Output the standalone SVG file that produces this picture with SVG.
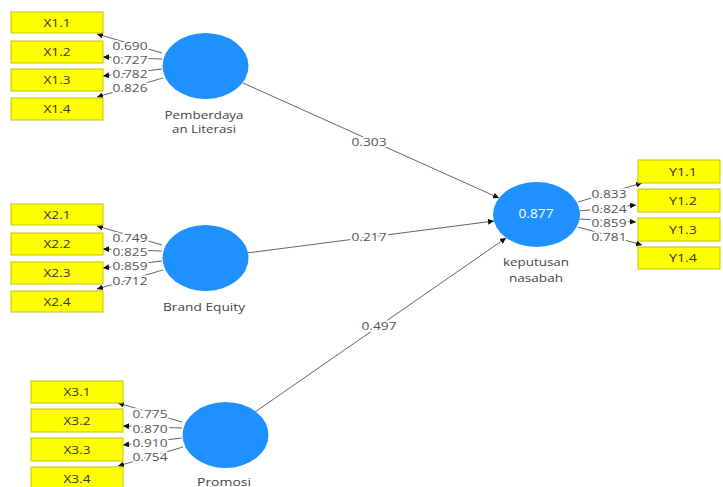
<svg xmlns="http://www.w3.org/2000/svg" width="723" height="487" viewBox="0 0 723 487">
<defs>
<marker id="ah" markerUnits="userSpaceOnUse" markerWidth="7" markerHeight="6" refX="6" refY="3" orient="auto">
<path d="M0,0 L6,3 L0,6 z" fill="#111"/>
</marker>
<style>
.box{fill:#ffff00;stroke:#c4c400;stroke-width:1}
.bt{font-family:"Open Sans","Noto Sans",sans-serif;font-size:11px;fill:#333;text-anchor:middle}
.lv{fill:#1e90ff}
.nl{font-family:"Open Sans","Noto Sans",sans-serif;font-size:11.5px;fill:#444;text-anchor:middle}
.ln{stroke:#666;stroke-width:1;fill:none;marker-end:url(#ah)}
.val{font-family:"Open Sans","Noto Sans",sans-serif;font-size:11px;fill:#555;text-anchor:middle;stroke:#fff;stroke-width:3.5;paint-order:stroke;stroke-linejoin:round}
.r2{font-family:"Open Sans","Noto Sans",sans-serif;font-size:12px;fill:#fff;text-anchor:middle}
</style>
</defs>
<rect width="723" height="487" fill="#fff"/>
<g id="connectors">
<path class="ln" d="M162,53 L97,34"/>
<path class="ln" d="M162,59 L103,57"/>
<path class="ln" d="M162,69 L103,76"/>
<path class="ln" d="M163,78 L97,97"/>
<path class="ln" d="M162,245 L97,226"/>
<path class="ln" d="M162,251 L103,249"/>
<path class="ln" d="M162,261 L103,268"/>
<path class="ln" d="M163,270 L97,289"/>
<path class="ln" d="M182,422 L118,403"/>
<path class="ln" d="M182,428 L123,426"/>
<path class="ln" d="M182,438 L123,445"/>
<path class="ln" d="M183,447 L118,466"/>
<path class="ln" d="M578,202 L642,183"/>
<path class="ln" d="M579,211 L636,205"/>
<path class="ln" d="M579,219 L636,222"/>
<path class="ln" d="M578,227 L642,245"/>
<path class="ln" d="M243,83 L499,198"/>
<path class="ln" d="M247,253 L494,221"/>
<path class="ln" d="M255,412 L506,238"/>
<text class="val" x="130" y="50" textLength="35" lengthAdjust="spacingAndGlyphs">0.690</text>
<text class="val" x="130" y="63.5" textLength="35" lengthAdjust="spacingAndGlyphs">0.727</text>
<text class="val" x="130" y="78" textLength="35" lengthAdjust="spacingAndGlyphs">0.782</text>
<text class="val" x="130" y="92" textLength="35" lengthAdjust="spacingAndGlyphs">0.826</text>
<text class="val" x="130" y="242" textLength="35" lengthAdjust="spacingAndGlyphs">0.749</text>
<text class="val" x="130" y="256" textLength="35" lengthAdjust="spacingAndGlyphs">0.825</text>
<text class="val" x="130" y="270" textLength="35" lengthAdjust="spacingAndGlyphs">0.859</text>
<text class="val" x="130" y="285" textLength="35" lengthAdjust="spacingAndGlyphs">0.712</text>
<text class="val" x="150" y="418" textLength="35" lengthAdjust="spacingAndGlyphs">0.775</text>
<text class="val" x="150" y="433" textLength="35" lengthAdjust="spacingAndGlyphs">0.870</text>
<text class="val" x="150" y="446.5" textLength="35" lengthAdjust="spacingAndGlyphs">0.910</text>
<text class="val" x="150" y="461" textLength="35" lengthAdjust="spacingAndGlyphs">0.754</text>
<text class="val" x="609" y="198" textLength="35" lengthAdjust="spacingAndGlyphs">0.833</text>
<text class="val" x="609" y="212.5" textLength="35" lengthAdjust="spacingAndGlyphs">0.824</text>
<text class="val" x="609" y="226.5" textLength="35" lengthAdjust="spacingAndGlyphs">0.859</text>
<text class="val" x="609" y="241" textLength="35" lengthAdjust="spacingAndGlyphs">0.781</text>
<text class="val" x="369" y="146" textLength="35" lengthAdjust="spacingAndGlyphs">0.303</text>
<text class="val" x="369" y="241" textLength="35" lengthAdjust="spacingAndGlyphs">0.217</text>
<text class="val" x="379" y="330" textLength="35" lengthAdjust="spacingAndGlyphs">0.497</text>
</g>
<g id="X1.1"><rect class="box" x="11" y="12" width="92" height="21"/><text class="bt" x="57" y="26.5" textLength="27" lengthAdjust="spacingAndGlyphs">X1.1</text></g>
<g id="X1.2"><rect class="box" x="11" y="41" width="92" height="22"/><text class="bt" x="57" y="56" textLength="27" lengthAdjust="spacingAndGlyphs">X1.2</text></g>
<g id="X1.3"><rect class="box" x="11" y="69" width="92" height="22"/><text class="bt" x="57" y="84" textLength="27" lengthAdjust="spacingAndGlyphs">X1.3</text></g>
<g id="X1.4"><rect class="box" x="11" y="98" width="92" height="22"/><text class="bt" x="57" y="113" textLength="27" lengthAdjust="spacingAndGlyphs">X1.4</text></g>
<g id="X2.1"><rect class="box" x="11" y="204" width="92" height="21"/><text class="bt" x="57" y="218.5" textLength="27" lengthAdjust="spacingAndGlyphs">X2.1</text></g>
<g id="X2.2"><rect class="box" x="11" y="233" width="92" height="22"/><text class="bt" x="57" y="248" textLength="27" lengthAdjust="spacingAndGlyphs">X2.2</text></g>
<g id="X2.3"><rect class="box" x="11" y="262" width="92" height="22"/><text class="bt" x="57" y="277" textLength="27" lengthAdjust="spacingAndGlyphs">X2.3</text></g>
<g id="X2.4"><rect class="box" x="11" y="291" width="92" height="21"/><text class="bt" x="57" y="305.5" textLength="27" lengthAdjust="spacingAndGlyphs">X2.4</text></g>
<g id="X3.1"><rect class="box" x="31" y="381" width="92" height="22"/><text class="bt" x="77" y="396" textLength="27" lengthAdjust="spacingAndGlyphs">X3.1</text></g>
<g id="X3.2"><rect class="box" x="31" y="409" width="92" height="23"/><text class="bt" x="77" y="424.5" textLength="27" lengthAdjust="spacingAndGlyphs">X3.2</text></g>
<g id="X3.3"><rect class="box" x="31" y="438" width="92" height="23"/><text class="bt" x="77" y="453.5" textLength="27" lengthAdjust="spacingAndGlyphs">X3.3</text></g>
<g id="X3.4"><rect class="box" x="31" y="467" width="92" height="23"/><text class="bt" x="77" y="482.5" textLength="27" lengthAdjust="spacingAndGlyphs">X3.4</text></g>
<g id="Y1.1"><rect class="box" x="638" y="160" width="82" height="23"/><text class="bt" x="683" y="175.5" textLength="28" lengthAdjust="spacingAndGlyphs">Y1.1</text></g>
<g id="Y1.2"><rect class="box" x="638" y="189" width="82" height="23"/><text class="bt" x="683" y="204.5" textLength="28" lengthAdjust="spacingAndGlyphs">Y1.2</text></g>
<g id="Y1.3"><rect class="box" x="638" y="218" width="82" height="23"/><text class="bt" x="683" y="233.5" textLength="28" lengthAdjust="spacingAndGlyphs">Y1.3</text></g>
<g id="Y1.4"><rect class="box" x="638" y="247" width="82" height="22"/><text class="bt" x="683" y="262" textLength="28" lengthAdjust="spacingAndGlyphs">Y1.4</text></g>
<g id="pemberdayaan">
<ellipse class="lv" cx="205.5" cy="66" rx="43" ry="33"/>
<text class="nl" x="204" y="119" textLength="79" lengthAdjust="spacingAndGlyphs">Pemberdaya</text>
<text class="nl" x="204" y="132.5" textLength="64" lengthAdjust="spacingAndGlyphs">an Literasi</text>
</g>
<g id="brand-equity">
<ellipse class="lv" cx="205.5" cy="258" rx="43" ry="33"/>
<text class="nl" x="204" y="311" textLength="82" lengthAdjust="spacingAndGlyphs">Brand Equity</text>
</g>
<g id="promosi">
<ellipse class="lv" cx="225.5" cy="435" rx="43" ry="33"/>
<text class="nl" x="224" y="485.5" textLength="54" lengthAdjust="spacingAndGlyphs">Promosi</text>
</g>
<g id="keputusan">
<ellipse class="lv" cx="536.5" cy="214.5" rx="43.5" ry="32.5"/>
<text class="r2" x="536" y="217.5" textLength="35" lengthAdjust="spacingAndGlyphs">0.877</text>
<text class="nl" x="536" y="266" textLength="66" lengthAdjust="spacingAndGlyphs">keputusan</text>
<text class="nl" x="536" y="281.5" textLength="54" lengthAdjust="spacingAndGlyphs">nasabah</text>
</g>
</svg>
